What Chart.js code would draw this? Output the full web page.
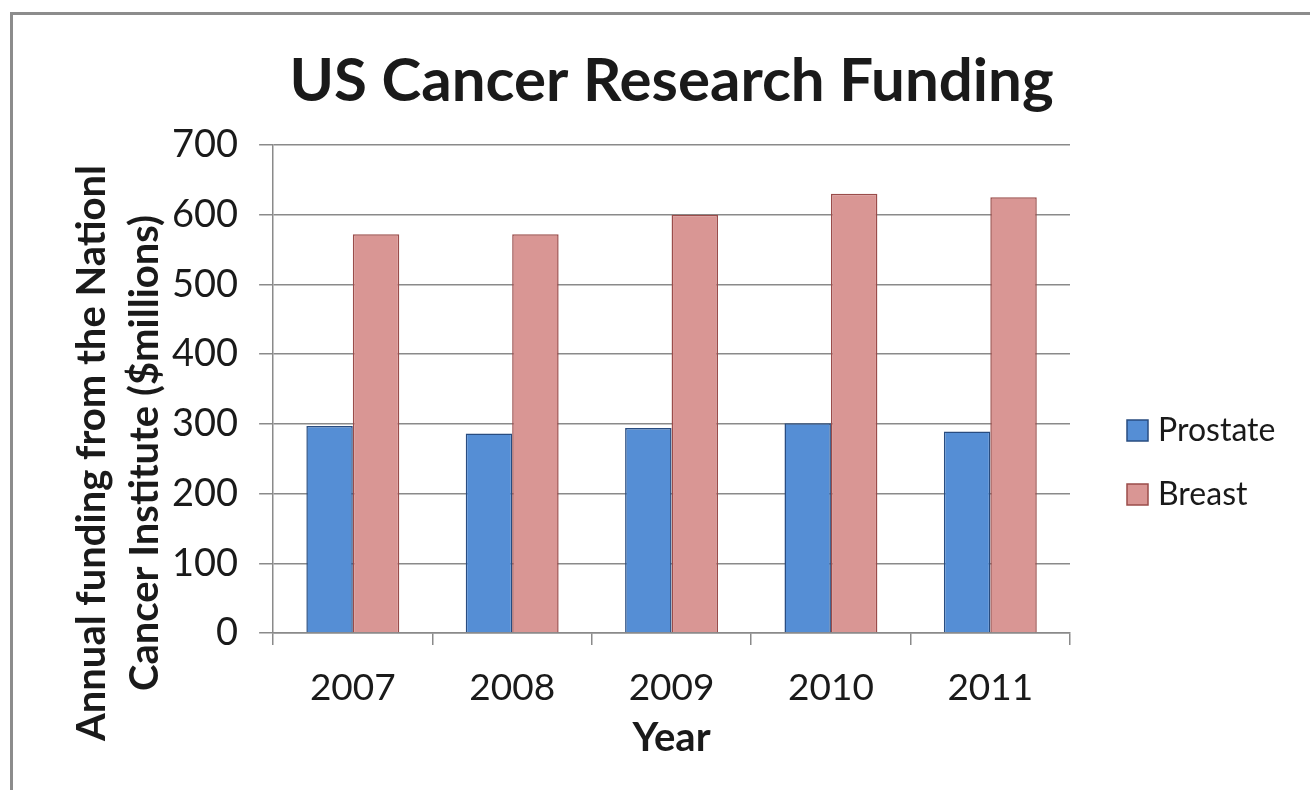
<!DOCTYPE html>
<html>
<head>
<meta charset="utf-8">
<script src="https://cdn.jsdelivr.net/npm/chart.js@4/dist/chart.umd.min.js"></script>
<style>
  html, body { margin: 0; padding: 0; background: #fff; }
  #wrap { position: relative; width: 1310px; height: 790px; overflow: hidden; }
  #frame { position: absolute; left: 10px; top: 12px; width: 1320px; height: 800px; border: 3px solid #8c8c8c; }
  canvas { position: absolute; left: 0; top: 0; }
</style>
</head>
<body>
<div id="wrap">
  <div id="frame"></div>
  <canvas id="barChart" width="1310" height="790"></canvas>
</div>
<script>
var years = ['2007', '2008', '2009', '2010', '2011'];
var prostate = [297, 286, 294, 301, 289];
var breast = [572, 572, 600, 630, 625];
var seriesNames = ['Prostate', 'Breast'];
var yTitleLines = ['Annual funding from the Nationl', 'Cancer Institute ($millions)'];

var FONT = "Lato, 'Open Sans', sans-serif";
var GRID = '#8a8a8a';
var TEXT = '#1a1a1a';

// y axis title, two lines, placed like the excel original
var yTitlePlugin = {
    id: 'yTitle',
    afterDraw: function(chart) {
        var ctx = chart.ctx;
        var area = chart.chartArea;
        var cy = area.top + 308;
        ctx.save();
        ctx.fillStyle = TEXT;
        ctx.font = 'bold 40px ' + FONT;
        ctx.textAlign = 'center';
        ctx.textBaseline = 'alphabetic';
        [105, 158].forEach(function(x, i) {
            ctx.save();
            ctx.translate(x, cy);
            ctx.rotate(-Math.PI / 2);
            ctx.fillText(yTitleLines[i], 0, 0);
            ctx.restore();
        });
        ctx.restore();
    }
};

// legend drawn at the right, box + label for each dataset
var sideLegend = {
    id: 'sideLegend',
    afterDraw: function(chart) {
        var ctx = chart.ctx;
        var area = chart.chartArea;
        ctx.save();
        ctx.font = '32px ' + FONT;
        ctx.textBaseline = 'middle';
        ctx.textAlign = 'left';
        chart.data.datasets.forEach(function(ds, i) {
            var x = area.right + 57;
            var y = area.top + 285 + i * 64;
            ctx.fillStyle = ds.backgroundColor;
            ctx.fillRect(x, y - 10, 21, 21);
            ctx.strokeStyle = ds.borderColor;
            ctx.lineWidth = 1.5;
            ctx.strokeRect(x, y - 10, 21, 21);
            ctx.fillStyle = TEXT;
            ctx.fillText(ds.label, x + 31, y + 1);
        });
        ctx.restore();
    }
};

var barChart = document.getElementById('barChart').getContext('2d');

var myBarChart = new Chart(barChart, {
    type: 'bar',
    data: {
        labels: years,
        datasets: [{
            label: seriesNames[0],
            data: prostate,
            backgroundColor: '#558ed5',
            borderColor: '#284c80',
            borderWidth: 1.5
        }, {
            label: seriesNames[1],
            data: breast,
            backgroundColor: '#d99694',
            borderColor: '#9a4c4a',
            borderWidth: 1.5
        }]
    },
    options: {
        responsive: false,
        animation: false,
        layout: {
            padding: { left: 151, right: 240, top: 0, bottom: 0 }
        },
        datasets: {
            bar: { categoryPercentage: 0.583, barPercentage: 1 }
        },
        plugins: {
            legend: { display: false },
            tooltip: { enabled: false },
            title: {
                display: true,
                fullSize: false,
                text: 'US Cancer Research Funding',
                color: TEXT,
                font: { family: FONT, size: 60, weight: 'bold', lineHeight: 1.2 },
                padding: { top: 46, bottom: 27 }
            }
        },
        scales: {
            x: {
                afterFit: function(scale) { scale.height = 157; },
                grid: { offset: true, drawOnChartArea: false, tickLength: 12, color: GRID, lineWidth: 1.5 },
                border: { color: GRID, width: 1.5 },
                ticks: { color: TEXT, font: { family: FONT, size: 37 }, padding: 21 },
                title: {
                    display: true,
                    text: 'Year',
                    color: TEXT,
                    font: { family: FONT, size: 40, weight: 'bold', lineHeight: 1.2 },
                    padding: { top: 0, bottom: 28 }
                }
            },
            y: {
                min: 0,
                max: 700,
                grid: { tickLength: 14, color: GRID, lineWidth: 1.5 },
                border: { color: GRID, width: 1.5 },
                ticks: { stepSize: 100, color: TEXT, font: { family: FONT, size: 38 }, padding: 21 }
            }
        }
    },
    plugins: [yTitlePlugin, sideLegend]
});
</script>
</body>
</html>
